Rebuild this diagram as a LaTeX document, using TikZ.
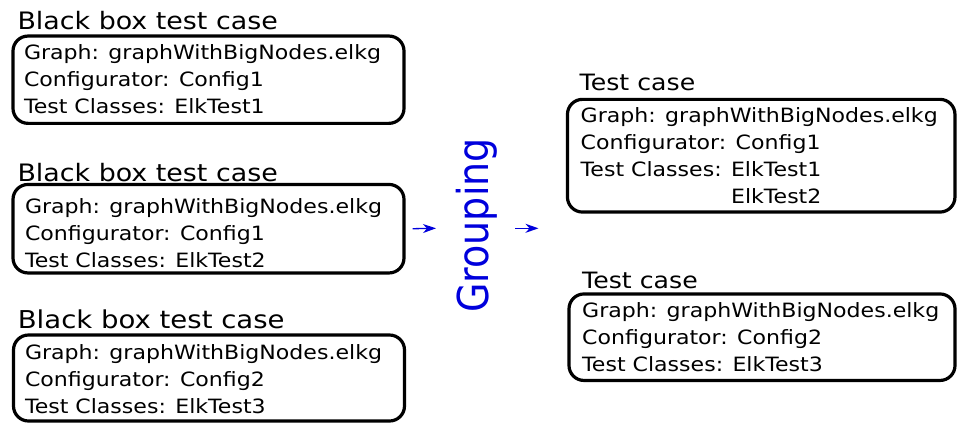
\documentclass[tikz,border=0pt]{standalone}
\usepackage{fontspec}
\setmainfont{DejaVu Sans}
\usepackage{graphicx}
\usetikzlibrary{arrows.meta}

\definecolor{grpblue}{RGB}{0,0,220}

% all text is set slightly wider than the font's natural width
\newcommand{\widetext}[1]{\scalebox{1.12}[1]{#1}}
% stacked lines of a test case box; the node's baseline is the first line
\newcommand{\caselines}[1]{\widetext{\vtop{\baselineskip=27pt\lineskiplimit=-100pt #1}}}

\begin{document}
\begin{tikzpicture}[x=1pt,y=-1pt,
  casetitle/.style={anchor=base west, inner sep=0pt, font=\fontsize{24}{28}\selectfont},
  casebody/.style={anchor=base west, inner sep=0pt, font=\fontsize{19.7}{27}\selectfont},
  casebox/.style={draw, line width=3.2pt, rounded corners=15pt, inner sep=0pt},
  flow/.style={draw=grpblue, line width=1.3pt,
    -{Stealth[length=13pt,width=9pt,inset=4pt]}}]

\useasboundingbox (0,0) rectangle (957,424);

% ---------- black box test cases (left column) ----------
\node[casetitle] (t1) at (17.3,29.3) {\widetext{Black box test case}};
\node[casebox, minimum width=391, minimum height=87.3] (b1) at (208.5,79.7) {};
\node[casebody] (x1) at (23.8,59.3) {\caselines{%
  \hbox{Graph: graphWithBigNodes.elkg}%
  \hbox{Configurator: Config1}%
  \hbox{Test Classes: ElkTest1}}};

\node[casetitle] (t2) at (17.3,181.7) {\widetext{Black box test case}};
\node[casebox, minimum width=391, minimum height=88.5] (b2) at (208.5,228.7) {};
\node[casebody] (x2) at (24.8,213.3) {\caselines{%
  \hbox{Graph: graphWithBigNodes.elkg}%
  \hbox{Configurator: Config1}%
  \hbox{Test Classes: ElkTest2}}};

\node[casetitle, font=\fontsize{24.6}{28}\selectfont] (t3) at (17.6,328.3) {\widetext{Black box test case}};
\node[casebox, minimum width=391, minimum height=86] (b3) at (209,378) {};
\node[casebody] (x3) at (24.8,359) {\caselines{%
  \hbox{Graph: graphWithBigNodes.elkg}%
  \hbox{Configurator: Config2}%
  \hbox{Test Classes: ElkTest3}}};

% ---------- grouping step ----------
\node[inner sep=0pt, text=grpblue, font=\fontsize{38}{40}\selectfont] (grp)
  at (476.3,225.5) {\widetext{\rotatebox{90}{Grouping}}};

\coordinate (inend) at (436,228.3);
\coordinate (outstart) at (515,228.3);
\coordinate (outend) at (538.5,228.3);
\draw[flow] ([xshift=7pt]b2.east) -- (inend);
\draw[flow] (outstart) -- (outend);

% ---------- grouped test cases (right column) ----------
\node[casetitle, font=\fontsize{22.5}{28}\selectfont] (t4) at (579.5,90.7) {\widetext{Test case}};
\node[casebox, minimum width=387.5, minimum height=112.7] (b4) at (761.2,155.7) {};
\node[casebody] (x4) at (580.5,122.7) {\caselines{%
  \hbox{Graph: graphWithBigNodes.elkg}%
  \hbox{Configurator: Config1}%
  \hbox{Test Classes: ElkTest1}%
  \hbox{\phantom{Test Classes: }ElkTest2}}};

\node[casetitle, font=\fontsize{22.5}{28}\selectfont] (t5) at (582,288.7) {\widetext{Test case}};
\node[casebox, minimum width=386, minimum height=86.5] (b5) at (762,337.2) {};
\node[casebody] (x5) at (582,317) {\caselines{%
  \hbox{Graph: graphWithBigNodes.elkg}%
  \hbox{Configurator: Config2}%
  \hbox{Test Classes: ElkTest3}}};

\end{tikzpicture}
\end{document}
